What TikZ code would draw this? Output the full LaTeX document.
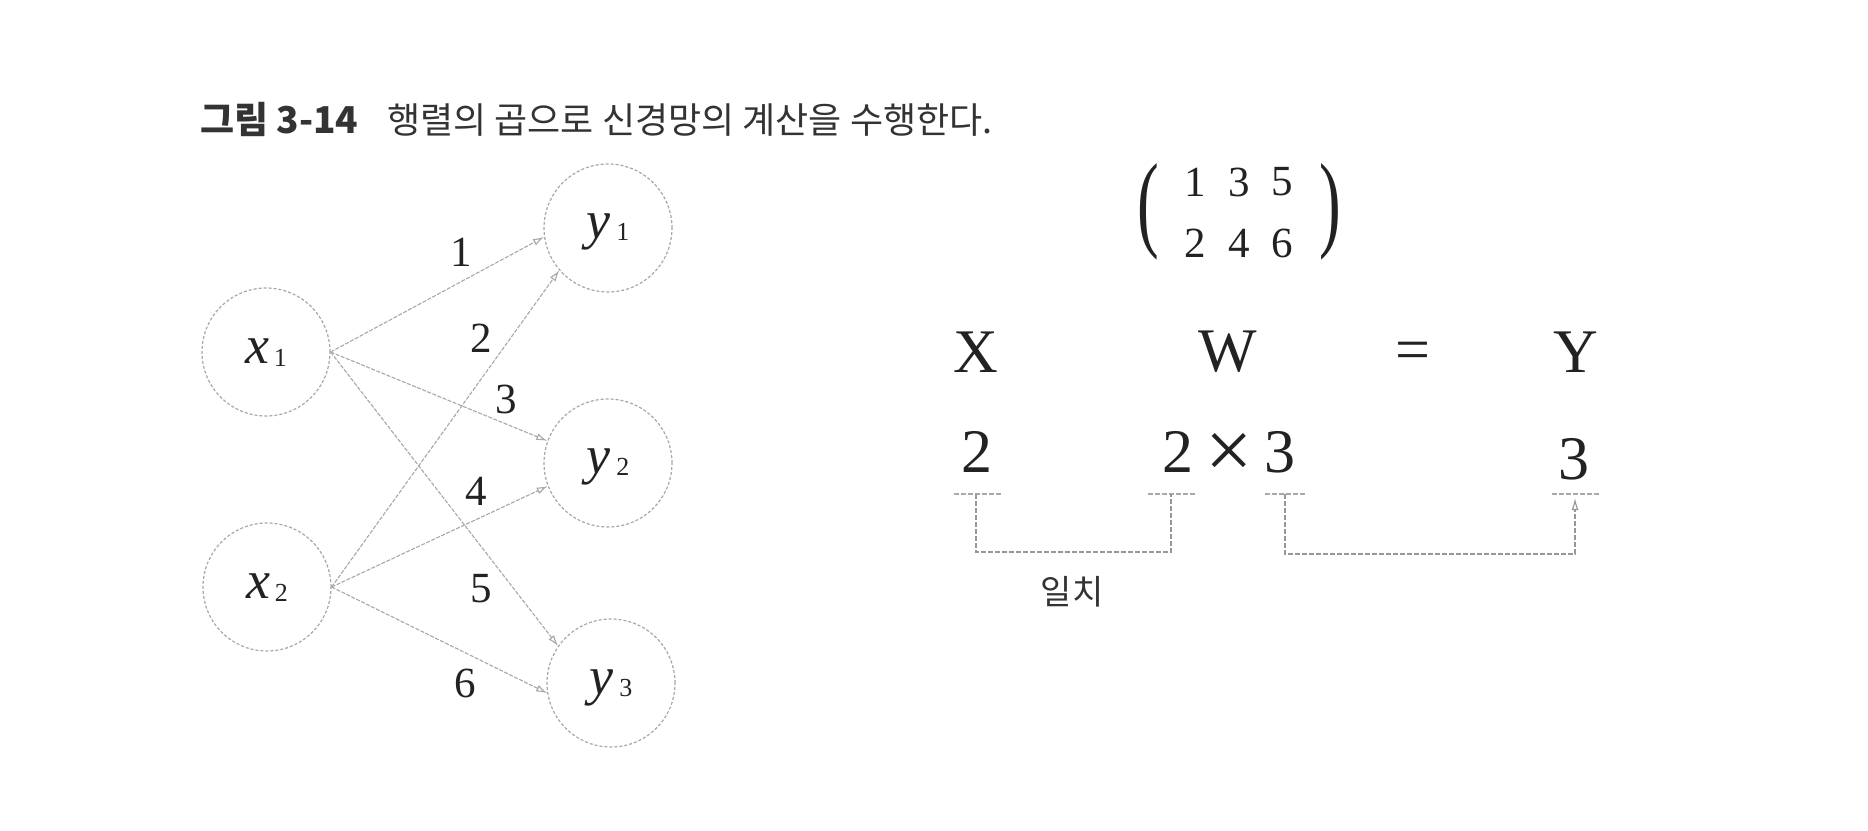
\documentclass[tikz,border=0pt]{standalone}
\usepackage{fontspec}
\setmainfont{Liberation Serif}
\newfontfamily\kr{Noto Sans CJK KR}
\usetikzlibrary{arrows.meta}
\newcommand\myfs[1]{\fontsize{#1}{#1}\selectfont}
\definecolor{ink}{HTML}{222222}
\definecolor{titleink}{HTML}{333333}
\definecolor{lite}{HTML}{A8A8A8}
\tikzset{
  neuron/.style={circle, draw=lite, dash pattern=on 3pt off 2pt, line width=1.2pt,
                 minimum size=128pt, inner sep=0pt},
  nlabel/.style={anchor=base, inner sep=0pt, text=ink},
  wire/.style={draw=lite, line width=1.1pt, dash pattern=on 4pt off 1.5pt,
               -{Latex[open,length=11pt,width=7pt]}},
  wlabel/.style={inner sep=0pt, text=ink, font=\myfs{43}},
  big/.style={inner sep=0pt, text=ink, font=\myfs{62}},
  mat/.style={inner sep=0pt, text=ink, font=\myfs{43}},
  uline/.style={draw=lite, line width=1.1pt, dash pattern=on 5pt off 2pt},
  bracket/.style={draw=lite!90!black, line width=1.1pt, dash pattern=on 5pt off 2pt},
}
\begin{document}
\begin{tikzpicture}[x=1pt,y=-1pt]
\useasboundingbox[fill=white] (0,0) rectangle (1868,830);

% title
\node[anchor=base west, inner sep=0pt, text=titleink] (t1) at (200,133) {\kr\bfseries\myfs{37}그림 3-14};
\node[anchor=base west, inner sep=0pt, text=titleink] (t2) at (387,133) {\kr\myfs{36}행렬의 곱으로 신경망의 계산을 수행한다.};

% neurons
\node[neuron] (x1) at (266,352) {};
\node[neuron] (x2) at (267,587) {};
\node[neuron] (y1) at (608,228) {};
\node[neuron] (y2) at (608,463) {};
\node[neuron] (y3) at (611,683) {};

\node[nlabel] (x1l) at (266,363) {{\myfs{54}\itshape x}\kern5pt\raisebox{-3pt}{\myfs{26}1}};
\node[nlabel] (x2l) at (267,598) {{\myfs{54}\itshape x}\kern5pt\raisebox{-3pt}{\myfs{26}2}};
\node[nlabel] (y1l) at (608,238) {{\myfs{54}\itshape y}\kern6pt\raisebox{-2pt}{\myfs{26}1}};
\node[nlabel] (y2l) at (608,473) {{\myfs{54}\itshape y}\kern6pt\raisebox{-2pt}{\myfs{26}2}};
\node[nlabel] (y3l) at (611,694) {{\myfs{54}\itshape y}\kern6pt\raisebox{-2pt}{\myfs{26}3}};

% weights
\draw[wire] (x1.east) -- (y1.188);
\draw[wire] (x2.east) -- (y1.221);
\draw[wire] (x1.east) -- (y2.160);
\draw[wire] (x2.east) -- (y2.201);
\draw[wire] (x1.east) -- (y3.145);
\draw[wire] (x2.east) -- (y3.189);

\node[wlabel] (w1) at (461,252) {1};
\node[wlabel] (w2) at (481,338) {2};
\node[wlabel] (w3) at (506,399) {3};
\node[wlabel] (w4) at (476,491) {4};
\node[wlabel] (w5) at (481,589) {5};
\node[wlabel] (w6) at (465,683) {6};

% matrix
\node[inner sep=0pt, text=ink] (pl) at (1148,212) {\myfs{62}\scalebox{1.05}[1.72]{(}};
\node[inner sep=0pt, text=ink] (pr) at (1330,212) {\myfs{62}\scalebox{1.05}[1.72]{)}};
\node[mat] (m11) at (1195,182) {1};
\node[mat] (m12) at (1239,182) {3};
\node[mat] (m13) at (1282,182) {5};
\node[mat] (m21) at (1195,243) {2};
\node[mat] (m22) at (1239,243) {4};
\node[mat] (m23) at (1282,243) {6};

% X W = Y
\node[big] (X) at (976,352) {X};
\node[big] (W) at (1228,352) {W};
\node[big] (eq) at (1413,356) {=};
\node[big] (Y) at (1576,352) {Y};

\node[big] (dx) at (977,452) {2};
\node[big] (dw1) at (1178,452) {2};
\node[inner sep=0pt, text=ink, font=\myfs{84}] (times) at (1229,456) {×};
\node[big] (dw2) at (1280,452) {3};
\node[big] (dy) at (1574,459) {3};

% underlines
\coordinate (u1) at (976,494);
\coordinate (u2) at (1171,494);
\coordinate (u3) at (1285,494);
\coordinate (u4) at (1575,494);
\draw[uline] ([xshift=-22pt]u1) -- ([xshift=25pt]u1);
\draw[uline] ([xshift=-23pt]u2) -- ([xshift=24pt]u2);
\draw[uline] ([xshift=-20pt]u3) -- ([xshift=20pt]u3);
\draw[uline] ([xshift=-23pt]u4) -- ([xshift=25pt]u4);

% brackets
\draw[bracket] (u1) -- ++(0,58) -| (u2);
\draw[bracket, -{Latex[open,length=12pt,width=7pt]}] (u3) -- ++(0,60) -| ([yshift=-4pt]u4);

\node[inner sep=0pt, text=titleink] (match) at (1072,592) {\kr\myfs{34}일치};
\end{tikzpicture}
\end{document}
